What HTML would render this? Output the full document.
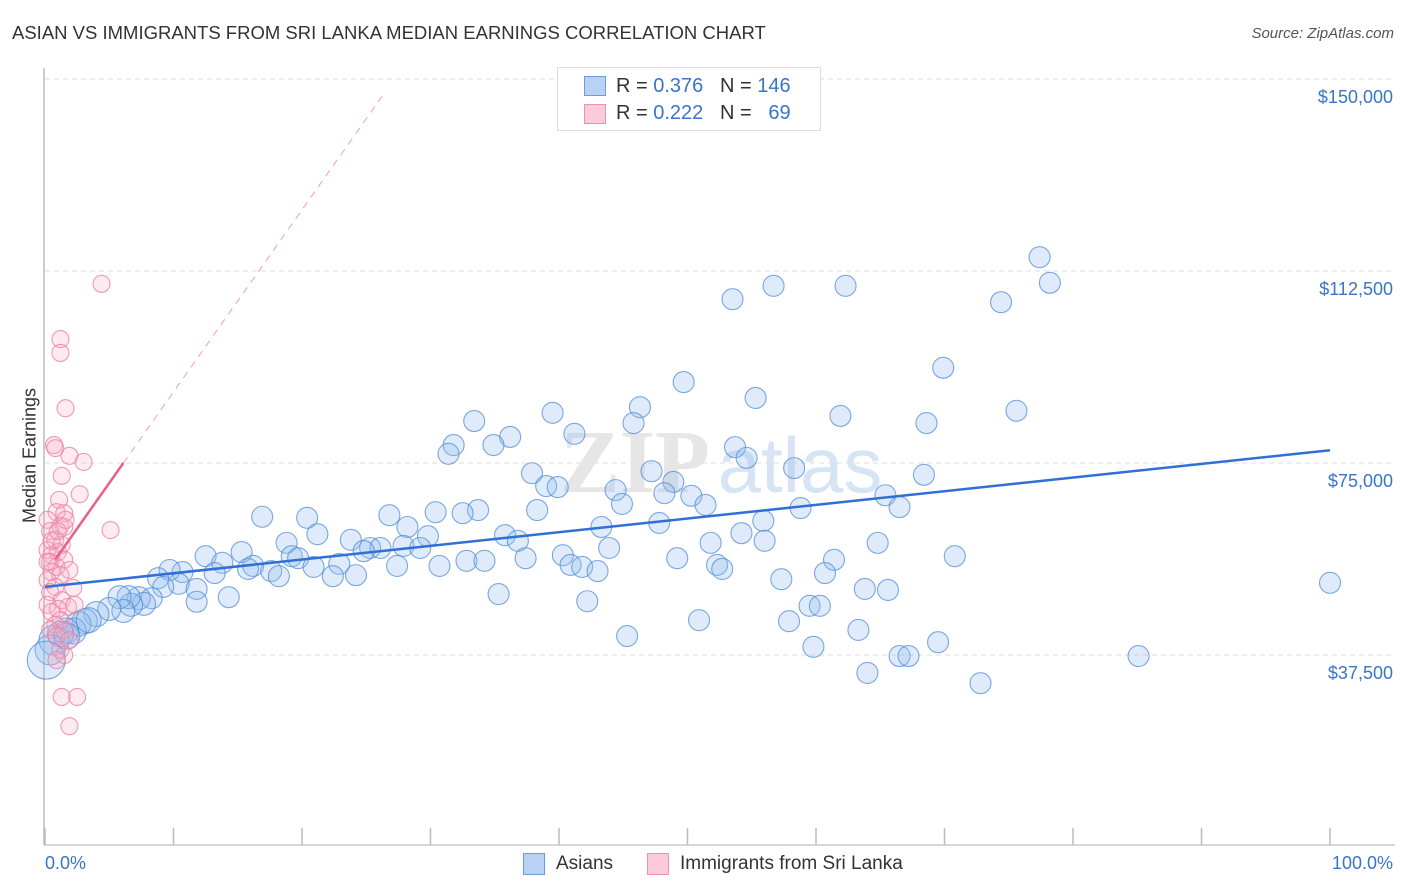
<!DOCTYPE html>
<html><head><meta charset="utf-8">
<style>
body{margin:0;background:#fff;font-family:"Liberation Sans",sans-serif;}
#wrap{position:relative;width:1406px;height:892px;overflow:hidden;}
.t{position:absolute;white-space:nowrap;}
</style></head>
<body>
<div id="wrap">
<div class="t" style="left:12px;top:22px;font-size:18.5px;color:#333;">ASIAN VS IMMIGRANTS FROM SRI LANKA MEDIAN EARNINGS CORRELATION CHART</div>
<div class="t" style="right:12px;top:25px;font-size:15px;color:#555;font-style:italic;">Source: ZipAtlas.com</div>
<svg id="chart" width="1406" height="892" style="position:absolute;left:0;top:0"></svg>
</div>
<script>
const xTickPcts=[0,10,20,30,40,50,60,70,80,90,100];
const yTickVals=[37.5,75,112.5,150];
const yTickLabels=["$37,500","$75,000","$112,500","$150,000"];
const asianX=[77.4,78.2,56.7,62.3,53.5,74.4,69.9,49.7,55.3,75.6,46.3,61.9,33.4,68.6,45.8,39.5,41.2,36.2,34.9,31.8,31.4,53.7,54.6,58.3,47.2,68.4,37.9,39.0,39.9,44.4,48.9,48.2,65.4,50.3,51.4,44.9,38.3,66.5,58.8,33.7,32.5,30.4,26.8,16.9,20.4,55.9,47.8,43.3,28.2,35.8,54.2,21.2,29.8,36.8,18.8,23.8,25.3,51.8,56.0,64.8,43.9,26.1,27.9,29.2,24.8,19.2,15.3,40.3,12.5,19.7,37.4,32.8,34.2,49.2,70.8,61.4,13.8,22.9,16.2,27.4,30.7,20.9,40.9,41.8,52.3,52.7,43.0,10.7,17.6,9.7,13.2,15.8,18.2,22.4,24.2,60.7,8.8,57.3,10.4,63.8,9.2,65.6,100,11.8,35.3,8.3,7.3,14.3,42.2,7.7,6.7,11.8,59.5,60.3,6.5,5.8,6.1,5.0,4.0,3.1,2.6,50.9,57.9,63.3,45.3,2.2,1.6,1.2,0.7,0.4,0.1,69.5,59.8,66.5,67.2,85.1,64.0,72.8,1.7,3.4];
const asianY=[115.2,110.2,109.6,109.6,107.0,106.4,93.6,90.8,87.7,85.2,85.9,84.2,83.2,82.8,82.8,84.8,80.7,80.1,78.5,78.5,76.8,78.1,76.0,74.0,73.4,72.7,73.0,70.5,70.3,69.7,71.3,69.1,68.7,68.6,66.8,67.0,65.8,66.4,66.2,65.8,65.2,65.4,64.8,64.5,64.3,63.7,63.3,62.5,62.5,60.9,61.3,61.1,60.7,59.8,59.4,60.0,58.4,59.4,59.8,59.4,58.4,58.4,58.8,58.4,57.8,56.8,57.6,57.0,56.8,56.4,56.4,55.9,55.9,56.4,56.8,56.1,55.5,55.3,54.9,54.9,54.9,54.7,55.1,54.7,55.1,54.3,53.9,53.7,53.9,54.1,53.5,54.3,52.9,52.9,53.1,53.5,52.5,52.3,51.4,50.4,50.8,50.2,51.6,50.4,49.4,48.6,48.6,48.8,48.0,47.5,47.3,47.9,47.1,47.1,48.8,48.8,46.1,46.5,45.5,44.1,43.6,44.3,44.1,42.4,41.2,42.2,42.2,41.6,40.4,38.5,36.5,40.0,39.1,37.3,37.3,37.3,34.0,32.0,41.2,44.3];
const lankaX=[4.4,1.2,1.2,1.6,0.7,0.8,1.9,3.0,1.3,2.7,1.1,0.9,1.5,0.2,1.2,1.5,0.4,5.1,0.8,1.3,0.2,1.0,0.5,1.5,0.4,0.9,0.5,1.9,1.2,0.2,0.8,2.2,0.4,1.3,0.2,1.8,1.0,0.5,2.3,1.2,0.8,0.4,1.5,0.9,1.9,1.2,1.5,0.9,1.3,2.5,1.9,0.2,0.5,1.0,1.6];
const lankaY=[110.0,99.2,96.5,85.7,78.5,77.9,76.4,75.2,72.5,68.9,67.8,65.4,65.2,63.9,62.7,62.5,61.7,61.9,60.0,59.0,58.0,57.6,57.0,56.1,55.7,54.7,53.7,54.1,53.1,52.1,50.8,50.6,49.8,48.2,47.3,46.9,46.5,45.9,47.3,44.3,43.4,42.4,42.4,41.2,40.4,38.5,37.5,36.5,29.3,29.3,23.6,55.7,59.8,61.7,63.9];
const asianTrend=[50.8,77.5];
const lankaTrend=[53.3,75.0];
const lankaSolidEnd=6.1, lankaDashEnd=26.5;

const NS="http://www.w3.org/2000/svg";
const svg=document.getElementById('chart');
const X0=45,X1=1330,Y0=847,PXK=192/37.5;
const sx=p=>X0+(X1-X0)*p/100;
const sy=v=>Y0-v*PXK;
function mk(tag,attrs,parent){const e=document.createElementNS(NS,tag);for(const k in attrs)e.setAttribute(k,attrs[k]);(parent||svg).appendChild(e);return e;}

yTickVals.forEach((v,i)=>{
  const g=mk('line',{x1:45,x2:1395,y1:sy(v),y2:sy(v),stroke:'#ddd','stroke-dasharray':'5,4','stroke-width':1});
  
  
  const t=mk('text',{x:1393,y:sy(v)+24,'text-anchor':'end','font-size':18,fill:'#3a74c8','font-family':'Liberation Sans, sans-serif'});
  t.textContent=yTickLabels[i];
  
  
});
const ya=mk('line',{x1:44,x2:44,y1:68,y2:845,stroke:'#bbb','stroke-width':1.5});


const xa=mk('line',{x1:44,x2:1395,y1:845,y2:845,stroke:'#ccc','stroke-width':1.5});


xTickPcts.forEach(p=>{
  const l=mk('line',{x1:sx(p),x2:sx(p),y1:828,y2:845,stroke:'#bbb','stroke-width':1.5});
  
  
});
const wm=mk('text',{x:635,y:492,'text-anchor':'middle','font-size':90,fill:'#e6e6e6','font-family':'Liberation Serif, serif','font-weight':'bold'});
wm.textContent='ZIP';


const wm2=mk('text',{x:800,y:492,'text-anchor':'middle','font-size':78,fill:'#d7e4f4','font-family':'Liberation Sans, sans-serif'});
wm2.textContent='atlas';



asianX.forEach((p,i)=>{
  const r=p<0.3?19:p<1?15:p<2.5?13:p<5?12.5:p<8?11.5:10.5;
  const c=mk('circle',{cx:sx(p),cy:sy(asianY[i]),r:r,fill:'rgba(150,190,240,0.3)',stroke:'rgba(80,140,215,0.75)','stroke-width':1.1});
  
  
});
lankaX.forEach((p,i)=>{
  const c=mk('circle',{cx:sx(p),cy:sy(lankaY[i]),r:8.5,fill:'rgba(248,175,197,0.25)',stroke:'rgba(236,130,165,0.8)','stroke-width':1.1});
  
  
});
const slope=(lankaTrend[1]-lankaTrend[0])/lankaSolidEnd;
const ld=mk('line',{x1:sx(lankaSolidEnd),y1:sy(lankaTrend[1]),x2:sx(lankaDashEnd),y2:sy(lankaTrend[0]+slope*lankaDashEnd),stroke:'#eea0b6','stroke-width':1,'stroke-dasharray':'7,6'});


const ls=mk('line',{x1:sx(0.8),y1:sy(lankaTrend[0]+slope*0.8),x2:sx(lankaSolidEnd),y2:sy(lankaTrend[1]),stroke:'#e8608a','stroke-width':2.5});


const at=mk('line',{x1:sx(0),y1:sy(asianTrend[0]),x2:sx(100),y2:sy(asianTrend[1]),stroke:'#2f6fd6','stroke-width':2.5});


</script>
<div class="t" style="left:-40px;top:445px;width:140px;text-align:center;font-size:18px;color:#333;transform:rotate(-90deg);">Median Earnings</div>
<div style="position:absolute;left:557px;top:67px;width:262px;height:62px;border:1px solid #ddd;background:#fff;font-size:20px;">
  <div style="position:absolute;left:26px;top:8px;width:20px;height:18px;background:#b9d2f3;border:1px solid #6a9de0;"></div>
  <div class="t" style="left:58px;top:7px;color:#333">R = <span style="color:#3a74c8">0.376</span>&nbsp;&nbsp;&nbsp;N = <span style="color:#3a74c8">146</span></div>
  <div style="position:absolute;left:26px;top:36px;width:20px;height:18px;background:#fbcbd9;border:1px solid #ee8fac;"></div>
  <div class="t" style="left:58px;top:34px;color:#333">R = <span style="color:#3a74c8">0.222</span>&nbsp;&nbsp;&nbsp;N = &nbsp;&nbsp;<span style="color:#3a74c8">69</span></div>
</div>
<div class="t" style="left:45px;top:853px;font-size:18px;color:#3a74c8;">0.0%</div>
<div class="t" style="right:13px;top:853px;font-size:18px;color:#3a74c8;">100.0%</div>
<div style="position:absolute;left:523px;top:853px;">
  <div style="position:absolute;left:0;top:0;width:20px;height:20px;background:#b9d2f3;border:1px solid #6a9de0;"></div>
  <div class="t" style="left:33px;top:0;font-size:19px;color:#333;">Asians</div>
</div>
<div style="position:absolute;left:647px;top:853px;">
  <div style="position:absolute;left:0;top:0;width:20px;height:20px;background:#fbcbd9;border:1px solid #ee8fac;"></div>
  <div class="t" style="left:33px;top:0;font-size:19px;color:#333;">Immigrants from Sri Lanka</div>
</div>
</body></html>
